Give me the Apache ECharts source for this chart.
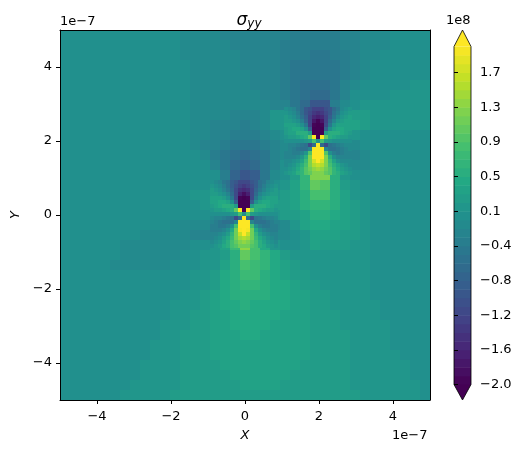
<!DOCTYPE html>
<html>
<head>
<meta charset="utf-8">
<title>sigma yy</title>
<script src="https://cdn.jsdelivr.net/npm/echarts@6/dist/echarts.min.js"></script>
<style>
html,body{margin:0;padding:0;background:#fff;}
#main{width:524px;height:453px;}
</style>
</head>
<body>
<div id="main"></div>
<script>
// stress values, in units of 1e7 (one unit is about one contour band)
// whole plot, top row first
var baseField = [
[0,0,0,0,0,0,0,0,0,0,0,0,-1,-1,-1,-1,-2,-2,-2,-2,-2,-2,-2,-3,-3,-3,-3,-3,-2,-2,-1,-1,-1,0,0,0,0],
[0,0,0,0,0,0,0,0,0,0,0,0,-1,-1,-1,-1,-1,-2,-2,-2,-2,-2,-3,-3,-3,-3,-3,-3,-2,-2,-1,-1,-1,0,0,0,0],
[0,0,0,0,0,0,0,0,0,0,0,0,-1,-1,-1,-1,-1,-1,-2,-2,-2,-2,-3,-3,-3,-4,-4,-3,-3,-2,-1,-1,0,0,0,0,0],
[0,0,0,0,0,0,0,0,0,0,0,0,0,-1,-1,-1,-1,-1,-2,-2,-2,-2,-3,-4,-4,-4,-4,-4,-3,-2,-1,0,0,0,0,0,0],
[0,0,0,0,0,0,0,0,0,0,0,0,0,-1,-1,-1,-1,-1,-1,-2,-2,-2,-3,-4,-4,-4,-4,-4,-3,-2,-1,0,0,0,0,0,0],
[0,0,0,0,0,0,0,0,0,0,0,0,0,-1,-1,-1,-1,-1,-1,-2,-2,-2,-3,-4,-5,-5,-5,-4,-2,-1,0,0,0,0,0,1,1],
[0,0,0,0,0,0,0,0,0,0,0,0,0,-1,-1,-1,-1,-1,-1,-1,-2,-2,-3,-4,-5,-6,-6,-4,-2,0,0,0,0,1,1,1,1],
[0,0,0,0,0,0,0,0,0,0,0,0,0,-1,-1,-1,-1,-1,-1,-1,-1,-2,-2,-4,-6,-9,-9,-3,-1,0,1,1,1,1,1,1,1],
[0,0,0,0,0,0,0,0,0,0,0,0,0,-1,-1,-1,-1,-2,-2,-2,-1,1,1,-1,-5,-13,-10,0,1,2,2,1,1,1,1,1,1],
[0,0,0,0,0,0,0,0,0,0,0,0,0,-1,-1,-2,-2,-2,-3,-2,-1,1,1,2,5,-20,-20,3,3,3,2,1,1,1,1,1,1],
[0,0,0,0,0,0,0,0,0,0,0,0,0,-1,-1,-2,-2,-3,-3,-3,-2,-1,0,1,6,20,20,6,2,1,0,0,0,0,0,0,0],
[0,0,0,0,0,0,0,0,0,0,0,0,0,-1,-2,-2,-3,-4,-4,-4,-3,-2,-1,-3,-8,-8,-16,-5,-2,-1,0,0,0,0,0,0,0],
[0,0,0,0,0,0,0,0,0,0,0,0,0,0,-1,-3,-4,-5,-6,-5,-4,-2,-1,0,4,20,12,0,-3,-2,-1,0,0,0,0,0,0],
[0,0,0,0,0,0,0,0,0,0,0,0,0,0,0,-2,-4,-6,-7,-6,-4,-2,0,1,5,20,14,3,0,-1,-1,0,0,0,0,0,0],
[0,0,0,0,0,0,0,0,0,0,0,0,0,0,0,0,-3,-7,-9,-8,-4,-1,0,2,6,12,12,5,1,0,0,0,0,0,0,0,0],
[0,0,0,0,0,0,0,0,0,0,0,0,0,0,0,0,-3,-10,-20,-11,-3,0,1,3,6,10,9,5,2,1,0,0,0,0,0,0,0],
[0,0,0,0,0,0,0,0,0,0,0,0,0,1,1,1,-1,-10,-21,-12,-3,1,2,3,5,8,8,5,3,1,1,0,0,0,0,0,0],
[0,0,0,0,0,0,0,0,0,0,0,0,0,0,1,2,4,6,-21,6,2,2,2,3,5,6,6,5,3,2,1,0,0,0,0,0,0],
[0,0,0,0,0,0,0,0,0,0,0,0,0,0,0,0,1,0,0,1,1,1,2,2,3,5,5,4,3,2,1,0,0,0,0,0,0],
[0,0,0,0,0,0,0,0,0,0,0,-1,-1,-1,-1,-2,-3,-4,20,-4,-3,-2,-1,1,3,4,4,3,3,2,1,0,0,0,0,0,0],
[0,0,0,0,0,0,0,0,-1,-1,-1,-1,-1,-2,-2,-1,2,10,20,9,1,-1,-1,0,1,3,3,3,2,2,1,0,0,0,0,0,0],
[0,0,0,0,0,0,-1,-1,-1,-1,-1,-1,-1,0,0,1,3,7,13,8,4,1,0,0,1,3,2,2,2,1,1,0,0,0,0,0,0],
[0,0,0,0,0,0,-1,-1,-1,-1,-1,-1,0,0,1,1,2,5,10,8,6,4,2,1,1,1,1,1,1,1,1,0,0,0,0,0,0],
[0,0,0,0,0,-1,-1,-1,-1,-1,-1,0,0,0,1,1,3,5,8,7,6,4,3,2,1,1,1,1,1,1,1,0,0,0,0,0,0],
[0,0,0,0,0,0,0,0,0,0,0,0,0,1,1,2,4,5,7,7,5,4,3,2,2,1,1,1,1,1,1,0,0,0,0,0,0],
[0,0,0,0,0,0,0,0,0,0,0,0,0,1,1,2,4,5,6,6,5,4,4,3,2,2,1,1,1,1,1,0,0,0,0,0,0],
[0,0,0,0,0,0,0,0,0,0,0,0,1,1,2,3,4,5,5,5,5,4,4,3,3,2,2,1,1,1,1,0,0,0,0,0,0],
[0,0,0,0,0,0,0,0,0,0,0,1,1,1,2,3,4,4,5,4,4,4,4,3,3,2,2,1,1,1,1,1,0,0,0,0,0],
[0,0,0,0,0,0,0,0,0,0,0,1,1,2,2,3,3,4,4,4,4,4,3,3,3,2,2,2,1,1,1,1,0,0,0,0,0],
[0,0,0,0,0,0,0,0,0,0,1,1,1,2,2,3,3,4,4,4,4,3,3,3,3,2,2,2,1,1,1,1,1,0,0,0,0],
[0,0,0,0,0,0,0,0,0,0,1,1,2,2,2,3,3,3,4,4,3,3,3,3,3,2,2,2,2,1,1,1,1,0,0,0,0],
[0,0,0,0,0,0,0,0,0,1,1,1,2,2,2,3,3,3,3,3,3,3,3,3,3,2,2,2,2,1,1,1,1,0,0,0,0],
[0,0,0,0,0,0,0,0,0,1,1,1,2,2,2,3,3,3,3,3,3,3,3,3,3,2,2,2,2,1,1,1,1,1,0,0,0],
[0,0,0,0,0,0,0,0,1,1,1,1,2,2,2,2,3,3,3,3,3,3,3,3,2,2,2,2,2,1,1,1,1,1,1,0,0],
[0,0,0,0,0,0,0,0,1,1,1,1,2,2,2,2,2,3,3,3,3,3,3,2,2,2,2,2,2,1,1,1,1,1,1,0,0],
[0,0,0,0,0,0,0,1,1,1,1,1,2,2,2,2,2,2,3,3,3,3,2,2,2,2,2,2,2,1,1,1,1,1,1,1,0],
[0,0,0,0,0,0,1,1,1,1,1,2,2,2,2,2,2,2,2,2,2,2,2,2,2,2,2,2,2,2,1,1,1,1,1,1,0]
];

// finer reading around the lower singular point
var coreField1 = [
[0,-1,-2,-4,-5,-8,-9,-11,-11,-11,-9,-8,-5,-4,-2,-1,0],
[1,0,-1,-3,-5,-8,-10,-12,-13,-12,-10,-8,-5,-3,-1,0,1],
[2,1,0,-2,-4,-7,-11,-14,-15,-14,-11,-7,-4,-2,0,1,2],
[2,2,1,0,-2,-6,-11,-16,-18,-16,-11,-6,-2,0,1,2,2],
[3,3,3,2,0,-4,-11,-19,-21,-19,-11,-4,0,2,3,3,3],
[3,3,4,4,3,0,-8,-21,-21,-21,-8,0,3,4,4,3,3],
[2,3,4,5,5,5,2,-21,-21,-21,2,5,5,5,4,3,2],
[1,2,2,3,4,5,10,20,-21,20,10,5,4,3,2,2,1],
[0,0,0,0,0,1,2,8,0,8,2,1,0,0,0,0,0],
[-1,-2,-2,-3,-4,-5,-11,-6,21,-6,-11,-5,-4,-3,-2,-2,-1],
[-2,-3,-4,-5,-5,-5,-2,21,21,21,-2,-5,-5,-5,-4,-3,-2],
[-3,-3,-4,-4,-3,0,8,21,21,21,8,0,-3,-4,-4,-3,-3],
[-3,-3,-3,-2,0,4,11,19,21,19,11,4,0,-2,-3,-3,-3],
[-2,-2,-1,0,2,6,11,16,20,16,11,6,2,0,-1,-2,-2],
[-2,-1,0,2,4,7,11,14,15,14,11,7,4,2,0,-1,-2],
[-1,0,1,3,5,8,10,12,13,12,10,8,5,3,1,0,-1],
[0,1,2,4,5,8,9,11,11,11,9,8,5,4,2,1,0]
];

// finer reading around the upper singular point
var coreField2 = [
[0,-1,-2,-4,-6,-9,-10,-12,-12,-12,-10,-9,-6,-4,-1,0,1],
[1,0,-1,-3,-6,-9,-11,-13,-14,-13,-11,-9,-5,-3,0,1,2],
[2,1,0,-2,-5,-8,-12,-15,-16,-15,-12,-8,-4,-1,1,2,3],
[2,2,1,0,-3,-7,-12,-17,-19,-17,-12,-6,-2,1,2,3,3],
[3,3,3,2,0,-4,-12,-20,-21,-20,-11,-4,1,3,3,3,3],
[2,3,4,4,3,0,-8,-21,-21,-21,-8,0,3,4,4,3,3],
[2,3,3,5,5,5,2,-21,-21,-21,2,5,5,5,4,3,2],
[1,2,2,3,4,5,10,20,-21,20,10,5,4,3,2,2,1],
[0,0,0,0,0,1,2,8,0,8,2,1,0,0,0,0,0],
[-1,-2,-2,-3,-4,-5,-11,-6,21,-6,-11,-5,-4,-3,-2,-1,-1],
[-1,-2,-3,-4,-5,-5,-2,21,21,21,-2,-5,-5,-4,-3,-2,-1],
[-2,-2,-3,-3,-2,1,9,21,21,21,9,0,-3,-4,-3,-2,-2],
[-2,-2,-2,-1,1,5,12,20,21,20,12,5,0,-2,-2,-2,-2],
[-1,-1,0,1,3,7,12,17,21,17,12,7,3,0,-1,-1,-1],
[-1,0,1,3,5,8,12,15,16,15,12,8,5,3,1,0,-1],
[0,1,2,4,6,9,11,13,14,13,11,9,6,4,2,1,0],
[1,2,3,5,6,9,10,12,12,12,10,9,6,5,3,2,1]
];

var xTicks = [-4, -2, 0, 2, 4];
var yTicks = [-4, -2, 0, 2, 4];
var cbarTicks = [-2, -1.59, -1.18, -0.77, -0.36, 0.051, 0.46, 0.87, 1.28, 1.69];
var viridis = ['#440154','#482475','#414487','#355f8d','#2a788e','#21908d','#22a884','#42be71','#7ad151','#bddf26','#fde725'];
var bandCount = 39;

function viridisAt(t){
	var pos = Math.max(0, Math.min(1, t)) * (viridis.length - 1);
	var i = Math.min(Math.floor(pos), viridis.length - 2);
	var a = echarts.color.parse(viridis[i]);
	var b = echarts.color.parse(viridis[i + 1]);
	var f = pos - i;
	return 'rgb(' + Math.round(a[0] + (b[0] - a[0]) * f) + ',' + Math.round(a[1] + (b[1] - a[1]) * f) + ',' + Math.round(a[2] + (b[2] - a[2]) * f) + ')';
}

// value in 1e7 -> colour of its contour band
function bandColor(v){
	if(v < -20) return viridisAt(0);
	if(v >= 20) return viridisAt(1);
	var k = Math.floor((v + 20) * bandCount / 40);
	return viridisAt((k + 0.5) / bandCount);
}

// table -> [x0, y0, x1, y1, value] in axis units
function pushCells(list, table, x0, y0, step){
	for(var r = 0; r < table.length; r++){
		for(var c = 0; c < table[r].length; c++){
			list.push([x0 + c * step, y0 - r * step, x0 + (c + 1) * step, y0 - (r + 1) * step, table[r][c]]);
		}
	}
}

var cells = [];
pushCells(cells, baseField, -5, 5, 10 / 37);
pushCells(cells, coreField1, -0.03 - 34 / 37, 0.03 + 34 / 37, 4 / 37);
pushCells(cells, coreField2, 1.97 - 34 / 37, 2.0 + 34 / 37, 4 / 37);

var cbarCells = [];
for(var k = 0; k < bandCount; k++){
	cbarCells.push([-2 + k * 4 / bandCount, -2 + (k + 1) * 4 / bandCount, k]);
}

function renderCell(params, api){
	var p0 = api.coord([api.value(0), api.value(1)]);
	var p1 = api.coord([api.value(2), api.value(3)]);
	var x = Math.round(p0[0]), y = Math.round(p0[1]);
	return {
		type: 'rect',
		shape: {x: x, y: y, width: Math.round(p1[0]) - x, height: Math.round(p1[1]) - y},
		style: {fill: bandColor(api.value(4))}
	};
}

function renderBand(params, api){
	var p0 = api.coord([0, api.value(1)]);
	var p1 = api.coord([1, api.value(0)]);
	return {
		type: 'rect',
		shape: {x: p0[0], y: p0[1], width: p1[0] - p0[0], height: p1[1] - p0[1] + 0.5},
		style: {fill: viridisAt((api.value(2) + 0.5) / bandCount)}
	};
}

// the two end triangles and the outline of the colour bar
function renderCaps(params, api){
	var tl = api.coord([0, 2]), tr = api.coord([1, 2]);
	var bl = api.coord([0, -2]), br = api.coord([1, -2]);
	var mx = (tl[0] + tr[0]) / 2;
	var top = [mx, tl[1] - 16.5], bottom = [mx, bl[1] + 15.5];
	return {
		type: 'group',
		children: [
			{type: 'polygon', shape: {points: [tl, tr, top]}, style: {fill: viridisAt(1)}},
			{type: 'polygon', shape: {points: [bl, br, bottom]}, style: {fill: viridisAt(0)}},
			{type: 'polygon', shape: {points: [tl, top, tr, br, bottom, bl]}, style: {fill: 'none', stroke: '#000', lineWidth: 0.8}}
		]
	};
}

function minusLabel(v){
	return String(v).replace('-', '\u2212');
}

var fontName = '"DejaVu Sans"';

var myChart = echarts.init(document.getElementById('main'), null, {renderer: 'canvas'});
myChart.setOption({
	animation: false,
	backgroundColor: '#fff',
	title: {
		text: '{s|\u03c3}{sub|yy}',
		left: 244,
		top: 7,
		textAlign: 'center',
		textStyle: {
			fontWeight: 'normal',
			rich: {
				s: {fontFamily: fontName, fontStyle: 'italic', fontWeight: 'normal', fontSize: 17, color: '#000'},
				sub: {fontFamily: fontName, fontStyle: 'italic', fontWeight: 'normal', fontSize: 12, color: '#000', verticalAlign: 'bottom', padding: [6, 0, 0, 0]}
			}
		}
	},
	grid: [
		{left: 60, top: 30, width: 370, height: 370},
		{left: 454, top: 46.5, width: 17, height: 338}
	],
	xAxis: [
		{
			type: 'value', gridIndex: 0, min: -5, max: 5, z: 5,
			name: 'X', nameLocation: 'middle', nameGap: 29,
			nameTextStyle: {color: '#000', fontFamily: fontName, fontSize: 13, fontStyle: 'italic'},
			axisLine: {onZero: false, lineStyle: {color: '#000', width: 1}},
			axisTick: {length: 4, lineStyle: {color: '#000'}, customValues: xTicks},
			axisLabel: {color: '#000', fontFamily: fontName, fontSize: 13, margin: 10, customValues: xTicks, formatter: minusLabel},
			splitLine: {show: false}
		},
		{
			type: 'value', gridIndex: 0, min: -5, max: 5, position: 'top', z: 5,
			axisLine: {onZero: false, lineStyle: {color: '#000', width: 1}},
			axisTick: {show: false}, axisLabel: {show: false}, splitLine: {show: false}
		},
		{type: 'value', gridIndex: 1, min: 0, max: 1, show: false}
	],
	yAxis: [
		{
			type: 'value', gridIndex: 0, min: -5, max: 5, z: 5,
			name: 'Y', nameLocation: 'middle', nameGap: 38,
			nameTextStyle: {color: '#000', fontFamily: fontName, fontSize: 13, fontStyle: 'italic'},
			axisLine: {onZero: false, lineStyle: {color: '#000', width: 1}},
			axisTick: {length: 4, lineStyle: {color: '#000'}, customValues: yTicks},
			axisLabel: {color: '#000', fontFamily: fontName, fontSize: 13, margin: 8, customValues: yTicks, formatter: minusLabel},
			splitLine: {show: false}
		},
		{
			type: 'value', gridIndex: 0, min: -5, max: 5, position: 'right', z: 5,
			axisLine: {onZero: false, lineStyle: {color: '#000', width: 1}},
			axisTick: {show: false}, axisLabel: {show: false}, splitLine: {show: false}
		},
		{
			type: 'value', gridIndex: 1, min: -2, max: 2, position: 'right', z: 5,
			axisLine: {show: false},
			axisTick: {length: 4, lineStyle: {color: '#000'}, customValues: cbarTicks},
			axisLabel: {
				color: '#000', fontFamily: fontName, fontSize: 13, margin: 9, customValues: cbarTicks,
				formatter: function(v){ return minusLabel(v.toFixed(1)); }
			},
			splitLine: {show: false}
		}
	],
	graphic: [
		{type: 'text', left: 60, top: 15, style: {text: '1e\u22127', fill: '#000', font: '13px ' + fontName}},
		{type: 'text', left: 392, top: 429, style: {text: '1e\u22127', fill: '#000', font: '13px ' + fontName}},
		{type: 'text', left: 446, top: 14, style: {text: '1e8', fill: '#000', font: '13px ' + fontName}}
	],
	series: [
		{
			type: 'custom', name: 'field', xAxisIndex: 0, yAxisIndex: 0, clip: true, silent: true,
			encode: {x: 0, y: 1}, data: cells, renderItem: renderCell
		},
		{
			type: 'custom', name: 'colorbar', xAxisIndex: 2, yAxisIndex: 2, silent: true,
			encode: {y: 0}, data: cbarCells, renderItem: renderBand
		},
		{
			type: 'custom', name: 'caps', xAxisIndex: 2, yAxisIndex: 2, clip: false, silent: true, z: 4,
			encode: {y: 0}, data: [[0]], renderItem: renderCaps
		}
	]
});
</script>
</body>
</html>
